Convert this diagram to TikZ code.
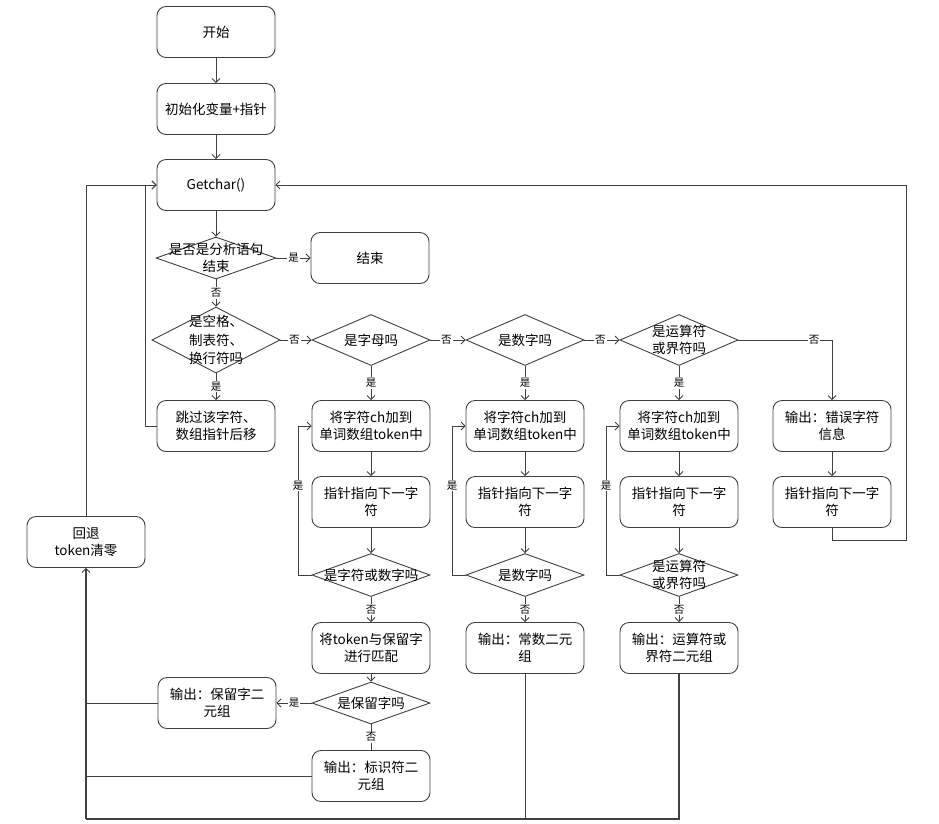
\documentclass[tikz,border=0pt]{standalone}
\usepackage{fontspec}
\setmainfont{Noto Sans CJK SC}
\usetikzlibrary{shapes.geometric,arrows.meta}
\begin{document}
\begin{tikzpicture}[x=1pt,y=-1pt,
  every node/.style={inner sep=0pt},
  ln/.style={draw=black!75, line width=0.9pt},
  arr/.style={ln, -{Straight Barb[length=4pt,width=8pt,line width=0.8pt]}},
  box/.style={draw=black!75, line width=0.9pt, rounded corners=9pt, minimum width=118pt, minimum height=51pt, align=center, font=\fontsize{13.5pt}{17pt}\selectfont},
  dec/.style={draw=black!75, line width=0.9pt, diamond, minimum width=118pt, minimum height=51pt},
  dtxt/.style={align=center, font=\fontsize{13.5pt}{17pt}\selectfont},
  lab/.style={fill=white, inner sep=1pt, font=\fontsize{10.5pt}{12pt}\selectfont}
]
\useasboundingbox (0,0) rectangle (939,823);
% top column
\node[box] (start) at (216,32) {开始};
\node[box] (init) at (216,109) {初始化变量+指针};
\node[box] (getc) at (216,185) {Getchar()};
\node[dec, minimum width=120pt, minimum height=42pt] (d1) at (216,258) {};
\node[dtxt] (d1t) at (216,258) {是否是分析语句\\结束};
\node[box] (end) at (370,258) {结束};
\node[dec, minimum width=128pt, minimum height=66pt] (d2) at (216,340) {};
\node[dtxt, font=\fontsize{13.5pt}{18.5pt}\selectfont] (d2t) at (216,340) {是空格、\\制表符、\\换行符吗};
\node[box] (skip) at (216,426) {跳过该字符、\\数组指针后移};
% decisions row
\node[dec] (dA) at (371,340) {};
\node[dtxt] (dAt) at (371,340) {是字母吗};
\node[dec] (dB) at (525,340) {};
\node[dtxt] (dBt) at (525,340) {是数字吗};
\node[dec] (dC) at (679,340) {};
\node[dtxt] (dCt) at (679,340) {是运算符\\或界符吗};
% column A
\node[box] (aA) at (371,426) {将字符ch加到\\单词数组token中};
\node[box] (pA) at (371,502) {指针指向下一字\\符};
\node[dec, minimum height=43pt] (qA) at (371,575) {};
\node[dtxt] (qAt) at (371,575) {是字符或数字吗};
\node[box] (mA) at (371,648) {将token与保留字\\进行匹配};
\node[dec, minimum height=42pt] (rA) at (371,703) {};
\node[dtxt] (rAt) at (371,703) {是保留字吗};
\node[box] (idA) at (371,776) {输出：标识符二\\元组};
\node[box] (kw) at (217,703) {输出：保留字二\\元组};
% column B
\node[box] (aB) at (525,426) {将字符ch加到\\单词数组token中};
\node[box] (pB) at (525,502) {指针指向下一字\\符};
\node[dec, minimum height=43pt] (qB) at (525,575) {};
\node[dtxt] (qBt) at (525,575) {是数字吗};
\node[box] (oB) at (525,648) {输出：常数二元\\组};
% column C
\node[box] (aC) at (679,426) {将字符ch加到\\单词数组token中};
\node[box] (pC) at (679,502) {指针指向下一字\\符};
\node[dec, minimum height=43pt] (qC) at (679,575) {};
\node[dtxt] (qCt) at (679,575) {是运算符\\或界符吗};
\node[box] (oC) at (679,648) {输出：运算符或\\界符二元组};
% error column
\node[box] (err) at (832,426) {输出：错误字符\\信息};
\node[box] (perr) at (832,502) {指针指向下一字\\符};
% back
\node[box] (back) at (86,542) {回退\\token清零};
% coordinates
\coordinate (lA) at (145,426);
\coordinate (lB) at (145,185);
\coordinate (rT) at (906,185);
\coordinate (rB) at (906,540);
\coordinate (eB) at (832,540);
\coordinate (eT) at (832,340);
\coordinate (bot) at (86,819);
\coordinate (botC) at (679,819);
\coordinate (botB) at (525,819);
% connectors
\draw[arr] (start) -- (init);
\draw[arr] (init) -- (getc);
\draw[arr] (getc) -- (d1);
\draw[arr] (d1.east) -- node[lab] (l1) {是} (end.west);
\draw[arr] (d1.south) -- node[lab] (l2) {否} (d2.north);
\draw[arr] (d2.south) -- node[lab] (l3) {是} (skip.north);
\draw[arr] (d2.east) -- node[lab, pos=0.45] (l4) {否} (dA.west);
\draw[arr] (dA.east) -- node[lab, pos=0.45] (l5) {否} (dB.west);
\draw[arr] (dB.east) -- node[lab, pos=0.45] (l6) {否} (dC.west);
\draw[arr] (dC.east) -- (eT) -- (err.north);
\node[lab] (l7) at (814,340) {否};
\draw[arr] (skip.west) -- (lA) -- (lB) -- (getc.west);
\draw[arr] (back.north) |- (getc.west);
\draw[arr] (perr.south) -- (eB) -- (rB) -- (rT) -- (getc.east);
\draw[arr] (err) -- (perr);
% column A
\draw[arr] (dA.south) -- node[lab] (l8) {是} (aA.north);
\draw[arr] (aA) -- (pA);
\draw[arr] (pA) -- (qA.north);
\draw[arr] (qA.west) -- (298,575) |- node[lab, pos=0.3] (l9) {是} (aA.west);
\draw[arr] (qA.south) -- node[lab] (l10) {否} (mA.north);
\draw[arr] (mA) -- (rA.north);
\draw[arr] (rA.west) -- node[lab] (l11) {是} (kw.east);
\draw[ln] (rA.south) -- node[lab] (l12) {否} (idA.north);
% column B
\draw[arr] (dB.south) -- node[lab] (l13) {是} (aB.north);
\draw[arr] (aB) -- (pB);
\draw[arr] (pB) -- (qB.north);
\draw[arr] (qB.west) -- (452,575) |- node[lab, pos=0.3] (l14) {是} (aB.west);
\draw[arr] (qB.south) -- node[lab] (l15) {否} (oB.north);
% column C
\draw[arr] (dC.south) -- node[lab] (l16) {是} (aC.north);
\draw[arr] (aC) -- (pC);
\draw[arr] (pC) -- (qC.north);
\draw[arr] (qC.west) -- (606,575) |- node[lab, pos=0.3] (l17) {是} (aC.west);
\draw[arr] (qC.south) -- node[lab] (l18) {否} (oC.north);
% returns to back
\draw[ln] (kw.west) -- (kw.west -| back);
\draw[ln] (idA.west) -- (idA.west -| back);
\draw[ln] (oB.south) -- (botB);
\draw[ln, line width=1.1pt] (oC.south) -- (botC) -- (bot);
\draw[arr, line width=1.4pt] (bot) -- (back.south);
\end{tikzpicture}
\end{document}
